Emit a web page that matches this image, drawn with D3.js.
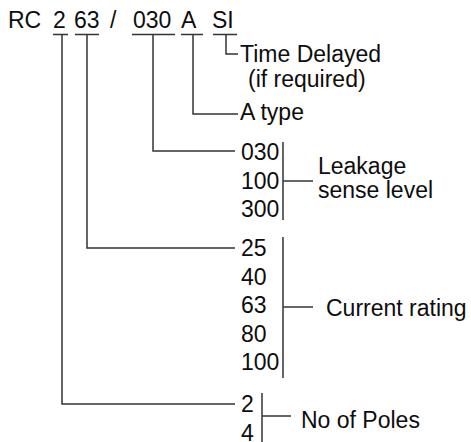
<!DOCTYPE html>
<html>
<head>
<meta charset="utf-8">
<script src="https://cdn.jsdelivr.net/npm/d3@7/dist/d3.min.js"></script>
<style>
  html, body { margin: 0; padding: 0; background: #ffffff; }
  svg text { font-family: "Liberation Sans", Arial, sans-serif; fill: #0d0d0d; }
</style>
</head>
<body>
<svg id="chart" width="471" height="442"></svg>
<script>
// ---- data ----
const codeTokens = ["RC", "2", "63", "/", "030", "A", "SI"];
const segmentLabels = ["Time Delayed", "A type", "Leakage", "Current rating", "No of Poles"];
const timeDelayedNote = "(if required)";
const leakageOptions = ["030", "100", "300"];
const leakageLabel = ["Leakage", "sense level"];
const currentOptions = ["25", "40", "63", "80", "100"];
const polesOptions = ["2", "4"];

// ---- layout ----
const svg = d3.select("#chart");
const FS = 23;
const stroke = "#333";
const sw = 1.5;

const tokenX = [8, 53, 74, 110, 133, 181, 212];
const headerBase = 28;
svg.selectAll("text.tok").data(codeTokens).enter().append("text")
  .attr("class", "tok")
  .attr("x", (d, i) => tokenX[i]).attr("y", headerBase)
  .attr("font-size", FS).text(d => d);

const ulY = 34.5;
const links = [
  {x1: 53, x2: 68, xv: 62, ye: 404, xe: 235},   // 2 -> poles
  {x1: 75, x2: 99, xv: 87, ye: 248, xe: 235},   // 63 -> current
  {x1: 132, x2: 175, xv: 153, ye: 151, xe: 235}, // 030 -> leakage
  {x1: 181, x2: 203, xv: 193, ye: 114, xe: 238}, // A -> A type
  {x1: 213, x2: 237, xv: 226, ye: 54, xe: 238}   // SI -> time delayed
];
const g = svg.append("g").attr("fill", "none").attr("stroke", stroke).attr("stroke-width", sw);
links.forEach(l => {
  g.append("line").attr("x1", l.x1).attr("x2", l.x2).attr("y1", ulY).attr("y2", ulY);
  g.append("path").attr("d", `M${l.xv},${ulY}V${l.ye}H${l.xe}`);
});

const optX = 241;
const rowH = 28.5;
function optionColumn(list, firstBase) {
  const y = d3.scaleLinear().domain([0, 1]).range([firstBase, firstBase + rowH]);
  svg.append("g").selectAll("text").data(list).enter().append("text")
    .attr("x", optX).attr("y", (d, i) => y(i)).attr("font-size", FS).text(d => d);
  return y;
}

// Time delayed
svg.append("text").attr("x", 240).attr("y", 62).attr("font-size", FS).text(segmentLabels[0]);
svg.append("text").attr("x", 248).attr("y", 87).attr("font-size", FS).text(timeDelayedNote);
// A type
svg.append("text").attr("x", 240).attr("y", 120).attr("font-size", FS).text(segmentLabels[1]);

// Leakage
optionColumn(leakageOptions, 160);
g.append("line").attr("x1", 283).attr("x2", 283).attr("y1", 142).attr("y2", 220);
g.append("line").attr("x1", 283).attr("x2", 313).attr("y1", 181).attr("y2", 181);
svg.append("text").attr("x", 318).attr("y", 174).attr("font-size", FS).text(leakageLabel[0]);
svg.append("text").attr("x", 318).attr("y", 198).attr("font-size", FS).text(leakageLabel[1]);

// Current rating
optionColumn(currentOptions, 256);
g.append("line").attr("x1", 283).attr("x2", 283).attr("y1", 237).attr("y2", 378);
g.append("line").attr("x1", 283).attr("x2", 313).attr("y1", 307).attr("y2", 307);
svg.append("text").attr("x", 326).attr("y", 316).attr("font-size", FS).text(segmentLabels[3]);

// Poles
optionColumn(polesOptions, 412);
g.append("line").attr("x1", 262).attr("x2", 262).attr("y1", 393).attr("y2", 442);
g.append("line").attr("x1", 262).attr("x2", 291).attr("y1", 416).attr("y2", 416);
svg.append("text").attr("x", 301).attr("y", 428).attr("font-size", FS).text(segmentLabels[4]);
</script>
</body>
</html>
